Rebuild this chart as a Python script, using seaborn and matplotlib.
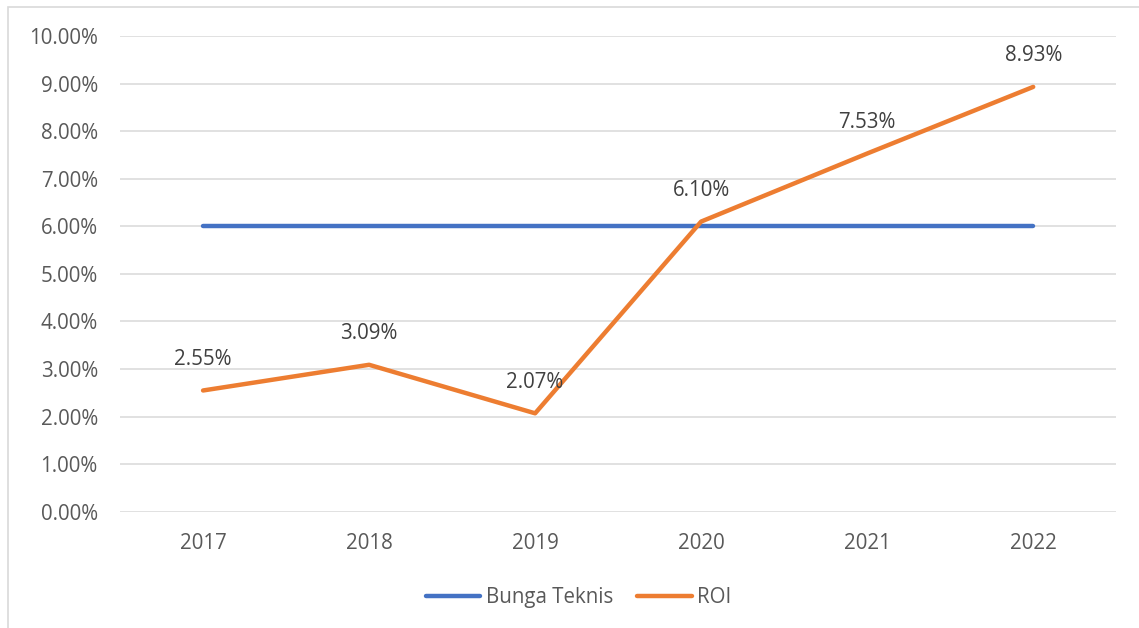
import pandas as pd
import numpy as np
import matplotlib.pyplot as plt
import seaborn as sns
from matplotlib.patches import Rectangle
from matplotlib.ticker import FuncFormatter, MultipleLocator

# ==========================================================
# Data
# ==========================================================

years = ["2017", "2018", "2019", "2020", "2021", "2022"]
bunga_teknis = [6.00, 6.00, 6.00, 6.00, 6.00, 6.00]
roi = [2.55, 3.09, 2.07, 6.10, 7.53, 8.93]

df = pd.DataFrame({
    "Tahun": years * 2,
    "Nilai": bunga_teknis + roi,
    "Seri": ["Bunga Teknis"] * len(years) + ["ROI"] * len(years)
})

# ==========================================================
# Style
# ==========================================================

sns.set_style("white")
plt.rcParams["font.family"] = ["Open Sans", "DejaVu Sans"]

text_color = "#595959"
grid_color = "#D9D9D9"
colors = {"Bunga Teknis": "#4472C4", "ROI": "#ED7D31"}
fs = 14.8

fig = plt.figure(figsize=(11.39, 6.28), dpi=100)
ax = fig.add_axes([0.1054, 0.185, 0.8746, 0.7577])

sns.lineplot(
    data=df,
    x="Tahun",
    y="Nilai",
    hue="Seri",
    palette=colors,
    linewidth=3.2,
    sort=False,
    ax=ax,
    legend=False
)

for line in ax.get_lines():
    line.set_solid_capstyle("round")
    line.set_solid_joinstyle("round")

# Data labels for ROI
for i, v in enumerate(roi):
    ax.annotate(
        f"{v:.2f}%",
        xy=(i, v),
        xytext=(0, 22.5),
        textcoords="offset points",
        ha="center",
        va="center",
        fontsize=fs,
        color="#404040"
    )

ax.set_xlim(-0.5, len(years) - 0.5)
ax.set_ylim(0, 10)
ax.yaxis.set_major_locator(MultipleLocator(1))
ax.yaxis.set_major_formatter(FuncFormatter(lambda v, p: f"{v:.2f}%"))

ax.grid(axis="y", color=grid_color, linewidth=1.1)
ax.set_axisbelow(True)
for s in ax.spines.values():
    s.set_visible(False)

ax.tick_params(axis="both", length=0, labelsize=fs, labelcolor=text_color)
ax.tick_params(axis="y", pad=16)
ax.tick_params(axis="x", pad=15)
ax.set_xlabel("")
ax.set_ylabel("")

# Legend at bottom
handles = [plt.Line2D([0], [0], color=colors[k], linewidth=3.2, solid_capstyle="round")
           for k in ["Bunga Teknis", "ROI"]]
fig.legend(
    handles,
    ["Bunga Teknis", "ROI"],
    loc="center",
    bbox_to_anchor=(0.508, 0.049),
    ncol=2,
    frameon=False,
    fontsize=fs,
    handlelength=2.65,
    handletextpad=0.25,
    columnspacing=1.2,
    labelcolor=text_color
)

# Chart border
fig.patches.append(Rectangle(
    (8 / 1139, -0.02), 1.05, 1 - 7 / 628 + 0.02,
    transform=fig.transFigure, fill=False,
    edgecolor=grid_color, linewidth=1.2
))

fig.savefig("out.png", dpi=100)
